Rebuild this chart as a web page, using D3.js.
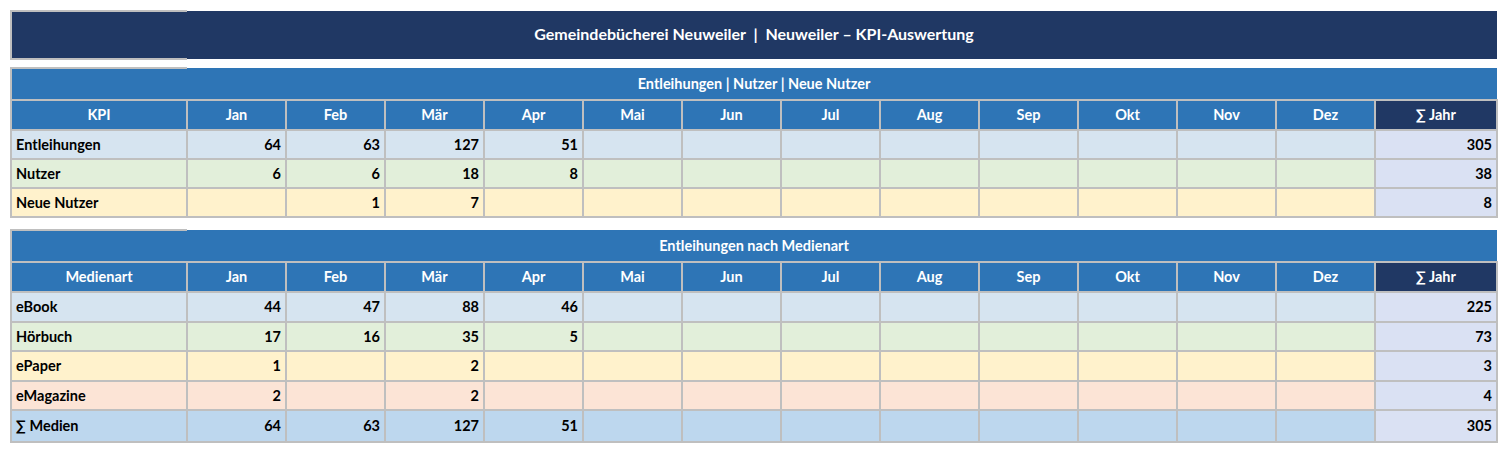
<!DOCTYPE html>
<html><head><meta charset="utf-8">
<script src="https://cdn.jsdelivr.net/npm/d3@7"></script>
<style>body{margin:0;background:#fff}text{font-family:Lato,"Open Sans",sans-serif;font-weight:700}</style>
</head><body><svg id="chart" width="1507" height="455"></svg>
<script>
const title = "Gemeindebücherei Neuweiler  |  Neuweiler – KPI-Auswertung";
const months = ["Jan","Feb","Mär","Apr","Mai","Jun","Jul","Aug","Sep","Okt","Nov","Dez"];
const kpiRows = ["Entleihungen","Nutzer","Neue Nutzer"];
const kpiValues = [[64,63,127,51],[6,6,18,8],[null,1,7,null]];
const kpiTotals = [305,38,8];
const mediaRows = ["eBook","Hörbuch","ePaper","eMagazine","∑ Medien"];
const mediaValues = [[44,47,88,46],[17,16,35,5],[1,null,2,null],[2,null,2,null],[64,63,127,51]];
const mediaTotals = [225,73,3,4,305];

const svg = d3.select("#chart");
const grid = "#bfbfbf", navy = "#203864", blue = "#2e75b6";
const rowFills = ["#d6e4f0","#e2efda","#fff2cc","#fce4d6","#bdd7ee"];
const jahrFill = "#dae1f3";

const x = d3.scaleBand().domain(months).range([187, 1375]);
const left = 11, right = 1497;

function cell(x0, y0, w, h, fill, label, anchor, color){
  svg.append("rect").attr("x", x0).attr("y", y0).attr("width", w).attr("height", h)
    .attr("fill", fill).attr("stroke", grid).attr("stroke-width", 2);
  if(label == null) return;
  const tx = anchor == "middle" ? x0 + w/2 : anchor == "end" ? x0 + w - 5 : x0 + 5;
  svg.append("text").attr("x", tx).attr("y", y0 + h/2 + 5).attr("text-anchor", anchor)
    .attr("font-size", 14.5).attr("fill", color || "#000").text(label);
}

// title
svg.append("rect").attr("x", left).attr("y", 11).attr("width", right-left).attr("height", 48).attr("fill", navy);
svg.append("path").attr("d", `M187,11H11V59H187`).attr("fill","none").attr("stroke", grid).attr("stroke-width",2);
svg.append("text").attr("x", (left+right)/2).attr("y", 40).attr("text-anchor","middle")
  .attr("fill","#fff").attr("font-size",16).attr("xml:space","preserve").text(title);

function section(top, banner, firstHead, rows, values, totals, heights){
  svg.append("rect").attr("x", left).attr("y", top).attr("width", right-left).attr("height", 32).attr("fill", blue);
  svg.append("path").attr("d", `M187,${top}H11V${top+32}`).attr("fill","none").attr("stroke", grid).attr("stroke-width",2);
  svg.append("text").attr("x", (left+right)/2).attr("y", top+21).attr("text-anchor","middle")
    .attr("fill","#fff").attr("font-size",14.5).text(banner);
  let y = top + 32;
  cell(left, y, 187-left, 30, blue, firstHead, "middle", "#fff");
  months.forEach(m => cell(x(m), y, x.bandwidth(), 30, blue, m, "middle", "#fff"));
  cell(1375, y, right-1375, 30, navy, "∑ Jahr", "middle", "#fff");
  y += 30;
  rows.forEach((r, i) => {
    const h = heights[i];
    cell(left, y, 187-left, h, rowFills[i], r, "start");
    months.forEach((m, j) => cell(x(m), y, x.bandwidth(), h, rowFills[i], values[i][j], "end"));
    cell(1375, y, right-1375, h, jahrFill, totals[i], "end");
    y += h;
  });
}

section(68, "Entleihungen | Nutzer | Neue Nutzer", "KPI", kpiRows, kpiValues, kpiTotals, [29,29,29]);
section(230, "Entleihungen nach Medienart", "Medienart", mediaRows, mediaValues, mediaTotals, [30,29,30,29,32]);
</script></body></html>
